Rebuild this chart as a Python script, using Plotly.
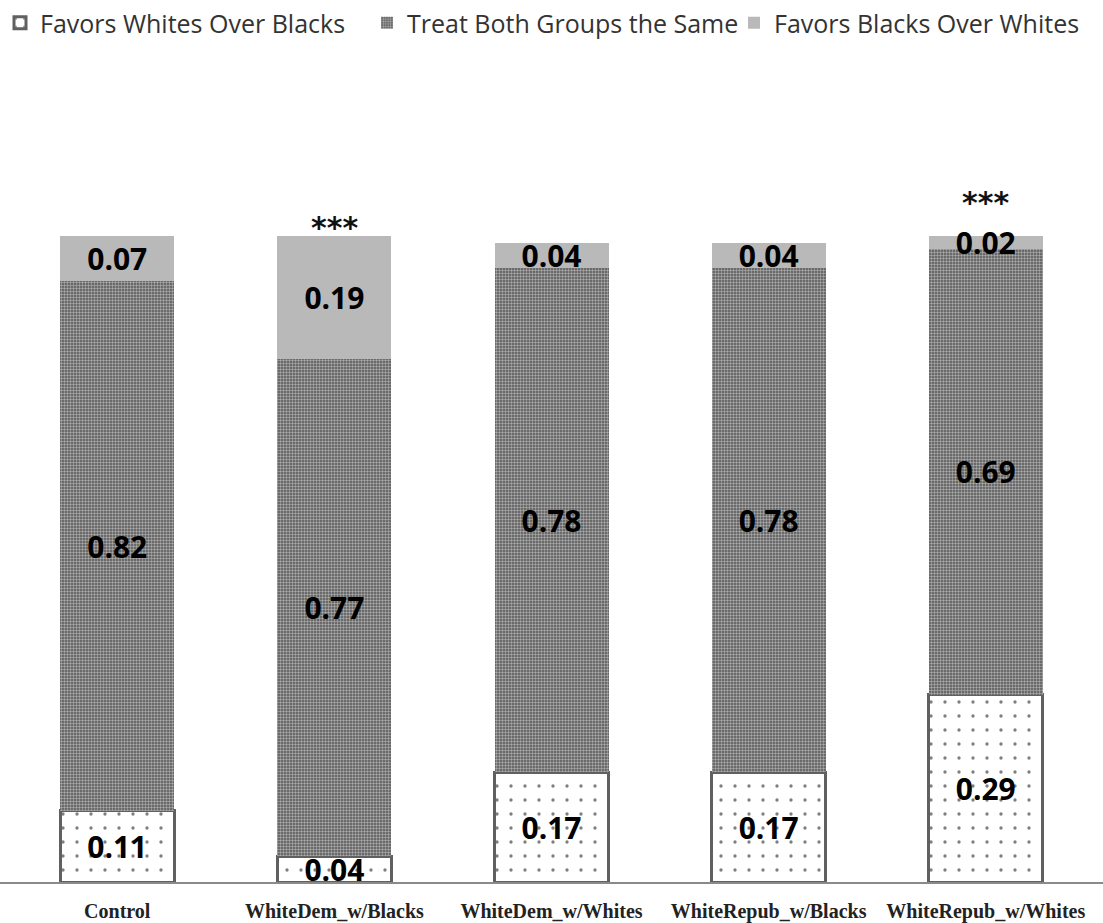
import plotly.graph_objects as go

categories = ["Control", "WhiteDem_w/Blacks", "WhiteDem_w/Whites",
              "WhiteRepub_w/Blacks", "WhiteRepub_w/Whites"]
favors_whites = [0.11, 0.04, 0.17, 0.17, 0.29]
treat_same = [0.82, 0.77, 0.78, 0.78, 0.69]
favors_blacks = [0.07, 0.19, 0.04, 0.04, 0.02]
significance = ["", "***", "", "", "***"]

# vertical offset (px) of each significance marker above its bar
sig_offsets = [0, -11, 0, 0, 14]

label_font = dict(family="Open Sans", size=30, color="black", weight="bold")

fig = go.Figure()

fig.add_bar(
    name="Favors Whites Over Blacks",
    x=categories, y=favors_whites,
    text=[f"{v:.2f}" for v in favors_whites],
    marker=dict(color="white",
                line=dict(color="#606060", width=3),
                pattern=dict(shape=".", size=14, solidity=0.045,
                             fgcolor="black", bgcolor="white")),
)
fig.add_bar(
    name="Treat Both Groups the Same",
    x=categories, y=treat_same,
    text=[f"{v:.2f}" for v in treat_same],
    marker=dict(color="#5a5a5a", line=dict(width=0),
                pattern=dict(shape=".", size=3, solidity=0.5,
                             fgcolor="#ffffff", bgcolor="#555555")),
)
fig.add_bar(
    name="Favors Blacks Over Whites",
    x=categories, y=favors_blacks,
    text=[f"{v:.2f}" for v in favors_blacks],
    marker=dict(color="#b9b9b9", line=dict(width=0)),
)

fig.update_traces(textposition="inside", insidetextanchor="middle",
                  constraintext="none", textfont=label_font,
                  textangle=0)

totals = [a + b + c for a, b, c in zip(favors_whites, treat_same, favors_blacks)]
for cat, tot, sig, off in zip(categories, totals, significance, sig_offsets):
    if sig:
        fig.add_annotation(x=cat, y=tot, text=sig, showarrow=False,
                           yanchor="bottom", yshift=off,
                           font=dict(family="DejaVu Sans", size=30,
                                     color="#111", weight="bold"))

fig.update_layout(
    barmode="stack",
    bargap=0.475,
    width=1103, height=923,
    margin=dict(l=0, r=0, t=107, b=41),
    plot_bgcolor="white", paper_bgcolor="white",
    showlegend=True,
    legend=dict(orientation="h", x=0, y=1, xref="paper", yref="container",
                xanchor="left", yanchor="top",
                font=dict(family="Open Sans", size=25, color="#333"),
                itemwidth=30, traceorder="normal",
                entrywidth=322, entrywidthmode="pixels"),
    xaxis=dict(range=[-0.54, 4.54], showline=True, linecolor="#8a8a8a",
               linewidth=1.5, ticks="", showgrid=False,
               ticklabelstandoff=10,
               tickfont=dict(family="Liberation Serif", size=20,
                             color="#222", weight="bold")),
    yaxis=dict(range=[0, 1.2], visible=False, showgrid=False),
)

fig.write_html("out.html")
